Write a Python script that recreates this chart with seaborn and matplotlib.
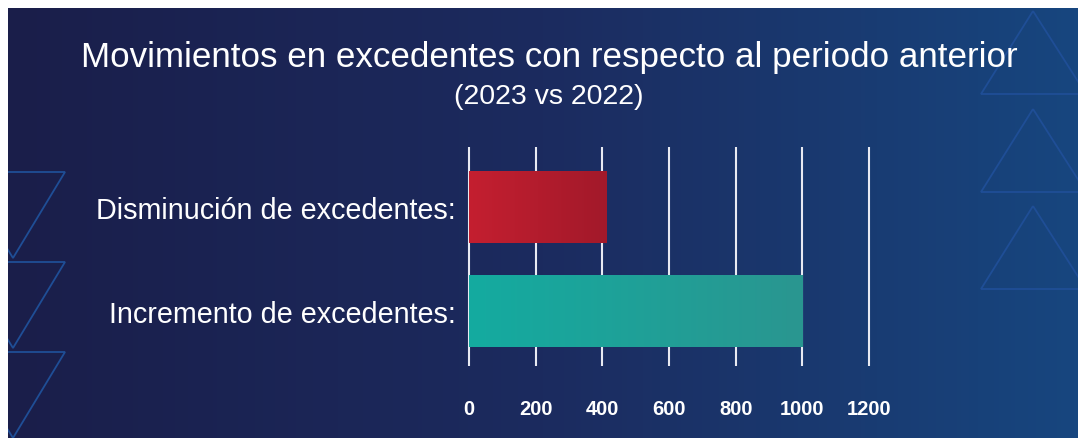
import numpy as np
import pandas as pd
import seaborn as sns
import matplotlib.pyplot as plt
from matplotlib.colors import LinearSegmentedColormap
from matplotlib.patches import Polygon

# Datos del grafico
categorias = ["Disminución de excedentes:", "Incremento de excedentes:"]
valores = [413, 1000]
ticks_x = [0, 200, 400, 600, 800, 1000, 1200]
colores_ini = ["#c41f30", "#14aba0"]
colores_fin = ["#a2192a", "#2a9690"]

df = pd.DataFrame({"Categoria": categorias, "Valor": valores})

sns.set_theme(style="white")
plt.rcParams["font.family"] = ["Liberation Sans", "DejaVu Sans"]

fig = plt.figure(figsize=(10.78, 4.39), dpi=100, facecolor="white")

# Fondo con degradado (coordenadas en pixeles, margen blanco arriba e izquierda)
bg = fig.add_axes([8 / 1078, 0, 1070 / 1078, 430 / 439])
fondo = LinearSegmentedColormap.from_list("fondo", ["#1a1e4a", "#1c2b5f", "#17467f"])
bg.imshow(np.linspace(0, 1, 256).reshape(1, -1), aspect="auto", cmap=fondo,
          extent=[8, 1078, 439, 9])
bg.set_xlim(8, 1078)
bg.set_ylim(439, 9)
bg.axis("off")

# Triangulos decorativos
borde = "#1f4e96"
for top in [173, 263, 353]:
    bg.add_patch(Polygon([[-40, top], [65, top], [13, top + 86]], closed=True,
                         fill=False, ec=borde, lw=1.3))
for apex in [12, 110, 207]:
    bg.add_patch(Polygon([[1033, apex], [1086, apex + 83], [981, apex + 83]], closed=True,
                         fill=False, ec=borde, lw=1.3))

# Titulo
fig.text(549 / 1078, 1 - 58 / 439, "Movimientos en excedentes con respecto al periodo anterior",
         ha="center", va="center", color="white", fontsize=25.2)
fig.text(549 / 1078, 1 - 97 / 439, "(2023 vs 2022)",
         ha="center", va="center", color="white", fontsize=20.5)

# Grafico de barras
ax = fig.add_axes([467 / 1078, 72 / 439, 404 / 1078, 219 / 439])
ax.set_facecolor("none")
sns.barplot(data=df, x="Valor", y="Categoria", hue="Categoria", palette=colores_ini,
            width=0.7, ax=ax, legend=False, zorder=3, linewidth=0)

# Degradado dentro de cada barra
for patch, c0, c1 in zip(ax.patches, colores_ini, colores_fin):
    x0, y0 = patch.get_x(), patch.get_y()
    w, h = patch.get_width(), patch.get_height()
    cmap = LinearSegmentedColormap.from_list("barra", [c0, c1])
    im = ax.imshow(np.linspace(0, 1, 256).reshape(1, -1), aspect="auto", cmap=cmap,
                   extent=[x0, x0 + w, y0 + h, y0], zorder=3.5)
    im.set_clip_path(patch)

ax.set_xlim(-6, 1206)
ax.set_ylim(1.529, -0.577)
ax.set_xticks(ticks_x)
ax.xaxis.grid(True, color="#e8eaf2", lw=1.5, zorder=1)
ax.yaxis.grid(False)
ax.set_axisbelow(True)
for s in ax.spines.values():
    s.set_visible(False)
ax.set_xlabel("")
ax.set_ylabel("")
ax.tick_params(axis="x", length=0, pad=24, labelsize=14.5, labelcolor="white")
ax.tick_params(axis="y", length=0, pad=8, labelsize=20.7, labelcolor="white")
for lab in ax.get_xticklabels():
    lab.set_fontweight("bold")

fig.savefig("out.png", dpi=100, facecolor=fig.get_facecolor())
